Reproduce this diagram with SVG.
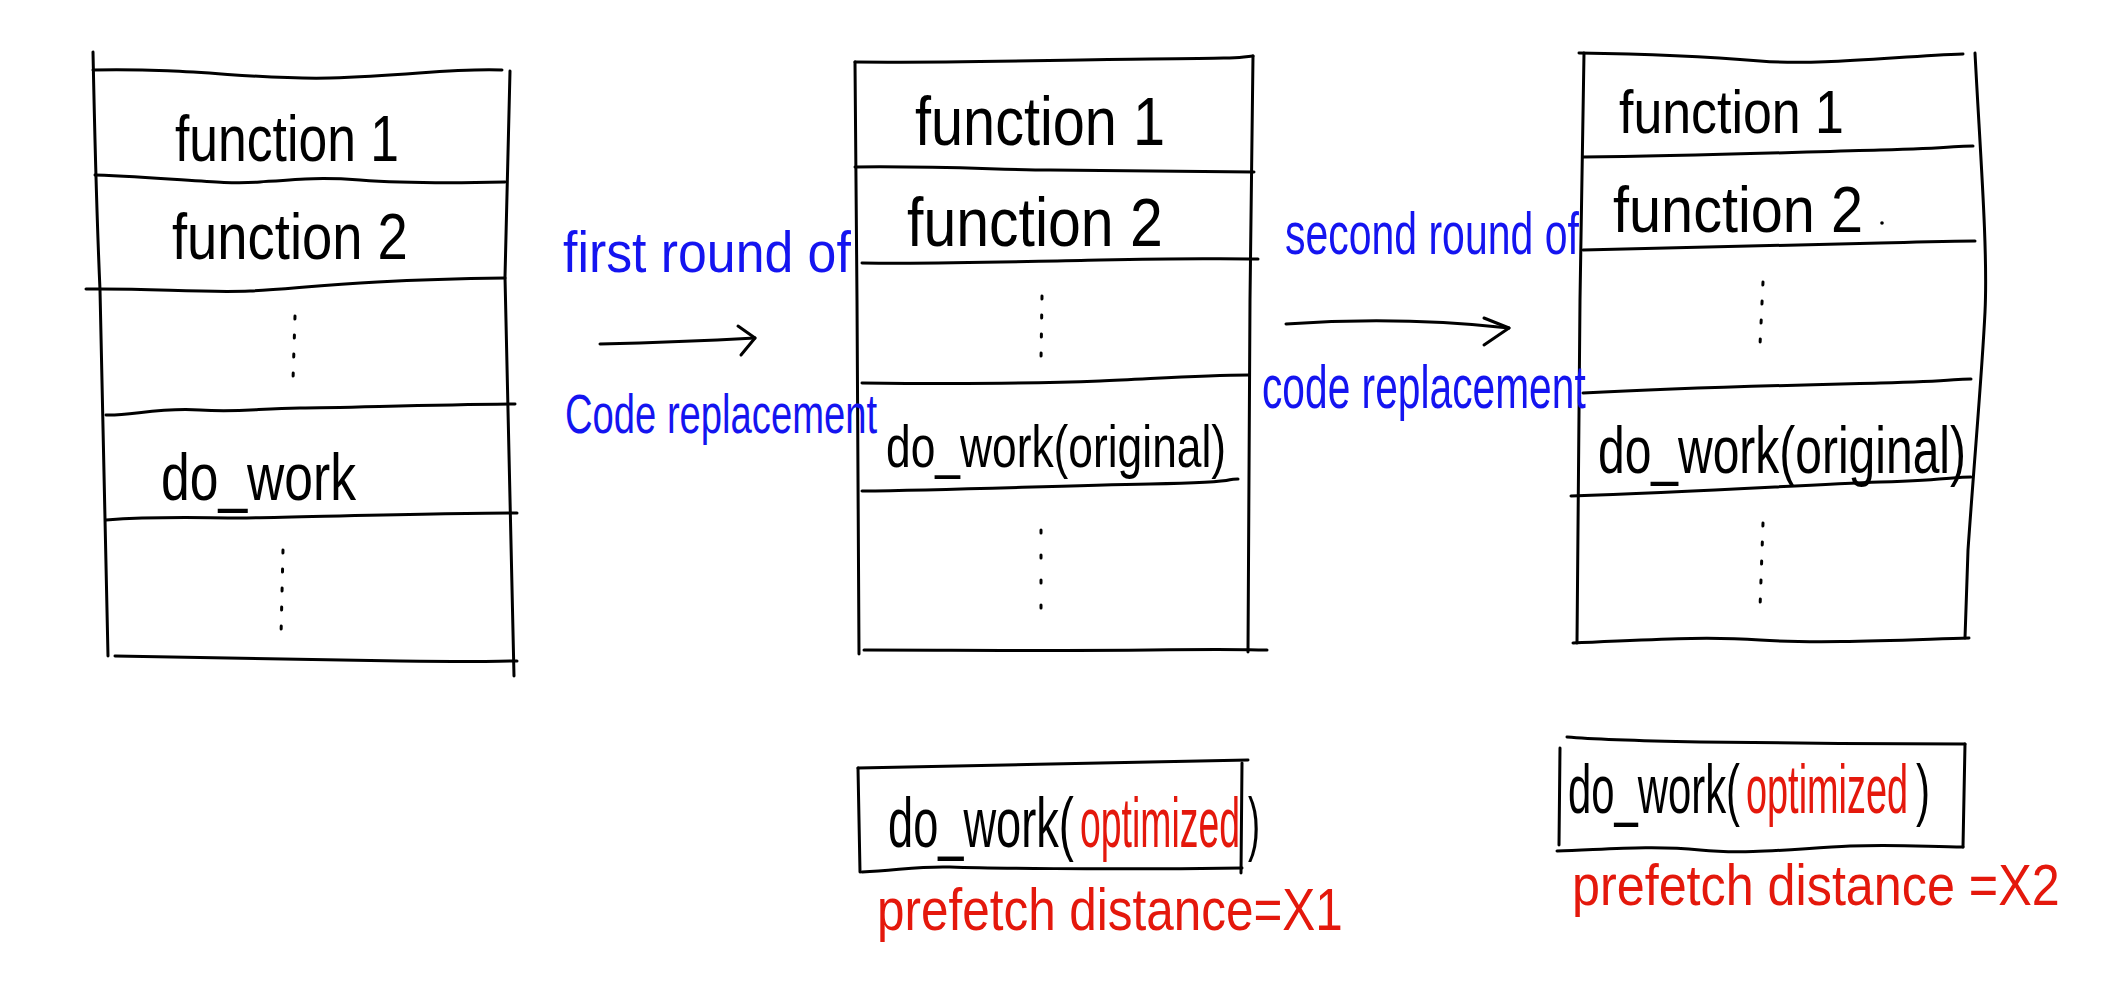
<svg xmlns="http://www.w3.org/2000/svg" width="2103" height="997" viewBox="0 0 2103 997">
<style>
.ln{fill:none;stroke:#000;stroke-width:3;stroke-linecap:round;stroke-linejoin:round}
.dot{fill:none;stroke:#000;stroke-width:3;stroke-linecap:round;stroke-dasharray:3 16}
.t{font-family:"Liberation Sans",Arial,sans-serif;fill:#000}
.b{fill:#1414f0}
.r{fill:#e4180c}
.arr{fill:none;stroke:#000;stroke-width:3;stroke-linecap:round;stroke-linejoin:round}
</style>
<rect width="2103" height="997" fill="#fff"/>

<g id="stack1">
<path class="ln" d="M93,52 Q96,200 100,290 L108,656"/>
<path class="ln" d="M510,71 L505,277 L514,676"/>
<path class="ln" d="M93,70 C200,68 250,80 330,78 S450,68 502,70"/>
<path class="ln" d="M95,175 C180,178 220,185 260,182 S320,177 360,180 S460,183 505,182"/>
<path class="ln" d="M86,289 C150,288 200,293 250,291 S350,280 505,278"/>
<path class="ln" d="M106,415 C130,416 160,407 200,410 S260,408 300,408 S420,405 515,404"/>
<path class="ln" d="M106,520 C160,516 200,518 240,518 S420,513 517,513"/>
<path class="ln" d="M115,656 C200,657 300,660 400,661 S490,661 517,661"/>
<text class="t" transform="translate(175,161) scale(0.807,1)" font-size="64">function 1</text>
<text class="t" transform="translate(172,259) scale(0.85,1)" font-size="64">function 2</text>
<path class="dot" d="M295,316 L293,380"/>
<text class="t" transform="translate(161,500) scale(0.782,1)" font-size="66">do_work</text>
<path class="dot" d="M283,550 L281,636"/>
</g>

<g id="stack2">
<path class="ln" d="M855,62 L857,300 L859,654"/>
<path class="ln" d="M1253,56 L1250,300 L1248,652"/>
<path class="ln" d="M855,62 C950,63 1050,60 1150,59 S1230,58 1253,56"/>
<path class="ln" d="M855,167 C950,166 1000,170 1050,170 S1150,171 1254,172"/>
<path class="ln" d="M862,263 C950,264 1000,262 1100,260 S1200,259 1258,259"/>
<path class="ln" d="M862,383 C950,384 1050,383 1100,381 S1200,375 1249,375"/>
<path class="ln" d="M862,491 C950,490 1050,486 1150,484 S1220,479 1238,479"/>
<path class="ln" d="M864,650 C950,650 1050,651 1150,650 S1240,650 1267,650"/>
<text class="t" transform="translate(915,145) scale(0.848,1)" font-size="68">function 1</text>
<text class="t" transform="translate(907,246) scale(0.868,1)" font-size="68">function 2</text>
<path class="dot" d="M1042,296 L1041,360"/>
<text class="t" transform="translate(886,467) scale(0.739,1)" font-size="60">do_work(original)</text>
<path class="dot" d="M1041,530 L1041,630" style="stroke-dasharray:3 22"/>
</g>

<g id="stack3">
<path class="ln" d="M1584,53 L1580,300 L1577,643"/>
<path class="ln" d="M1975,53 C1980,150 1988,250 1985,312 S1975,450 1968,550 L1965,638"/>
<path class="ln" d="M1579,53 C1650,54 1700,56 1760,61 S1900,56 1963,54"/>
<path class="ln" d="M1583,157 C1700,156 1800,152 1880,150 S1950,146 1973,146"/>
<path class="ln" d="M1583,250 C1700,248 1800,245 1880,243 S1950,241 1975,241"/>
<path class="ln" d="M1583,393 C1700,387 1800,385 1880,383 S1950,379 1971,379"/>
<path class="ln" d="M1571,496 C1700,492 1800,485 1880,482 S1950,477 1971,477"/>
<path class="ln" d="M1573,643 C1650,640 1700,636 1760,640 S1900,640 1969,638"/>
<text class="t" transform="translate(1619,133) scale(0.837,1)" font-size="62">function 1</text>
<text class="t" transform="translate(1613,232) scale(0.901,1)" font-size="64">function 2</text>
<circle cx="1882" cy="223" r="1.8" fill="#000"/>
<path class="dot" d="M1763,282 L1760,345"/>
<text class="t" transform="translate(1598,473) scale(0.727,1)" font-size="66">do_work(original)</text>
<path class="dot" d="M1763,523 L1760,608"/>
</g>

<g id="label-round1">
<text class="t b" transform="translate(563,272) scale(0.893,1)" font-size="58">first round of</text>
<text class="t b" transform="translate(565,433) scale(0.682,1)" font-size="56">Code replacement</text>
</g>

<g id="label-round2">
<text class="t b" transform="translate(1285,254) scale(0.683,1)" font-size="60">second round of</text>
<text class="t b" transform="translate(1262,408) scale(0.657,1)" font-size="62">code replacement</text>
</g>

<g id="connectors">
<path class="arr" d="M600,344 Q680,342 755,338"/>
<path class="arr" d="M738,326 L755,338 L741,355"/>
<path class="arr" d="M1286,324 Q1400,316 1509,328"/>
<path class="arr" d="M1484,318 L1509,328 L1484,345"/>
</g>

<g id="opt1">
<path class="ln" d="M858,768 L860,872"/>
<path class="ln" d="M858,768 C1000,766 1100,762 1248,760"/>
<path class="ln" d="M1242,763 L1241,873"/>
<path class="ln" d="M862,872 C900,870 920,866 950,867 S1100,870 1242,868"/>
<text class="t" transform="translate(888,847) scale(0.646,1)" font-size="70">do_work(</text>
<text class="t r" transform="translate(1080,847) scale(0.534,1)" font-size="70">optimized</text>
<text class="t" transform="translate(1248,847) scale(0.515,1)" font-size="70">)</text>
<text class="t r" transform="translate(877,930) scale(0.824,1)" font-size="60">prefetch distance=X1</text>
</g>

<g id="opt2">
<path class="ln" d="M1560,748 L1559,845"/>
<path class="ln" d="M1567,737 C1600,740 1650,741 1700,742 S1900,744 1965,744"/>
<path class="ln" d="M1965,744 L1963,847"/>
<path class="ln" d="M1557,851 C1600,850 1650,845 1700,850 S1800,848 1850,846 S1930,847 1963,847"/>
<text class="t" transform="translate(1568,813) scale(0.615,1)" font-size="68">do_work(</text>
<text class="t r" transform="translate(1746,813) scale(0.557,1)" font-size="68">optimized</text>
<text class="t" transform="translate(1916,813) scale(0.62,1)" font-size="68">)</text>
<text class="t r" transform="translate(1572,905) scale(0.867,1)" font-size="58">prefetch distance =X2</text>
</g>
</svg>
